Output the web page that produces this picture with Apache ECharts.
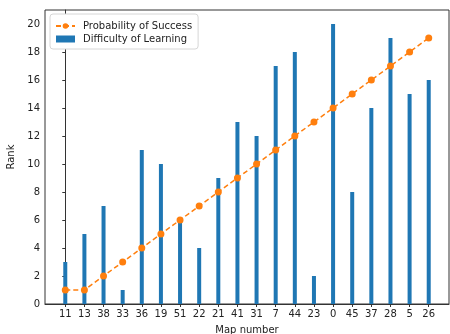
<!DOCTYPE html>
<html>
<head>
<meta charset="utf-8">
<script src="https://cdn.jsdelivr.net/npm/echarts@6/dist/echarts.min.js"></script>
<style>
  html, body { margin: 0; padding: 0; background: #fff; }
  #chart { width: 450px; height: 334px; }
</style>
</head>
<body>
<div id="chart"></div>
<script>
// Map numbers along the x axis
const mapNumbers = ['11', '13', '38', '33', '36', '19', '51', '22', '21', '41',
                    '31', '7', '44', '23', '0', '45', '37', '28', '5', '26'];
// Rank of each map by probability of success
const successRank = [1, 1, 2, 3, 4, 5, 6, 7, 8, 9, 10, 11, 12, 13, 14, 15, 16, 17, 18, 19];
// Rank of each map by difficulty of learning
const difficultyRank = [3, 5, 7, 1, 11, 10, 6, 4, 9, 13, 12, 17, 18, 2, 20, 8, 14, 19, 15, 16];
// Y tick values
const yTicks = [0, 2, 4, 6, 8, 10, 12, 14, 16, 18, 20];

const positions = mapNumbers.map((_, i) => i);
const font = 'DejaVu Sans';
const textColor = '#222';

const chart = echarts.init(document.getElementById('chart'), null, { renderer: 'canvas' });
chart.setOption({
  animation: false,
  backgroundColor: '#fff',
  textStyle: { fontFamily: font },
  grid: {
    left: 45, right: 1, top: 10, bottom: 30,
    outerBoundsMode: 'none',
    containLabel: false,
    show: true, borderColor: '#333', borderWidth: 1, backgroundColor: 'transparent'
  },
  legend: {
    orient: 'vertical',
    left: 50, top: 14,
    padding: [7, 6, 5, 5],
    itemGap: 3,
    itemWidth: 19, itemHeight: 7,
    backgroundColor: '#fff',
    borderColor: '#d6d6d6', borderWidth: 1, borderRadius: 3,
    textStyle: { fontFamily: font, fontSize: 10, color: textColor, padding: [0, 0, 0, 3] },
    data: [
      { name: 'Probability of Success' },
      { name: 'Difficulty of Learning', icon: 'rect' }
    ]
  },
  xAxis: {
    type: 'value',
    min: -1.06, max: 20.06,
    name: 'Map number', nameLocation: 'middle', nameGap: 21,
    nameTextStyle: { fontFamily: font, fontSize: 10, color: textColor },
    axisLine: { show: true, lineStyle: { color: '#333', width: 1 } },
    axisTick: { show: true, length: 3, lineStyle: { color: '#333' }, customValues: positions },
    axisLabel: {
      fontFamily: font, fontSize: 10, color: textColor, margin: 5,
      customValues: positions,
      formatter: v => mapNumbers[Math.round(v)]
    },
    splitLine: { show: false }
  },
  yAxis: {
    type: 'value',
    min: 0, max: 21,
    name: 'Rank', nameLocation: 'middle', nameGap: 27,
    nameTextStyle: { fontFamily: font, fontSize: 10, color: textColor },
    axisLine: { show: true, lineStyle: { color: '#333', width: 1 } },
    axisTick: { show: true, length: 3, lineStyle: { color: '#333' }, customValues: yTicks },
    axisLabel: { fontFamily: font, fontSize: 10, color: textColor, margin: 5, customValues: yTicks },
    splitLine: { show: false }
  },
  series: [
    {
      name: 'Difficulty of Learning',
      type: 'bar',
      barWidth: 4,
      itemStyle: { color: '#1f77b4' },
      data: positions.map(i => [i, difficultyRank[i]]),
      z: 2
    },
    {
      name: 'Probability of Success',
      type: 'line',
      symbol: 'circle',
      symbolSize: 7,
      itemStyle: { color: '#ff7f0e' },
      lineStyle: { color: '#ff7f0e', width: 1.5, type: [5, 3] },
      data: positions.map(i => [i, successRank[i]]),
      z: 3
    }
  ]
});
</script>
</body>
</html>
